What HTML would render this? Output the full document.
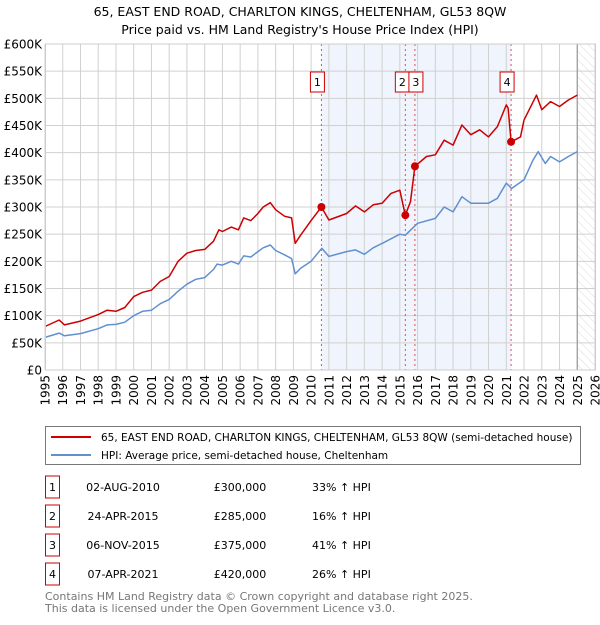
<!DOCTYPE html>
<html><head><meta charset="utf-8"><style>
body{margin:0;background:#fff;font-family:"Liberation Sans","DejaVu Sans",sans-serif;}
svg text{font-family:"DejaVu Sans","Liberation Sans",sans-serif;}
</style></head><body>
<svg width="600" height="620" viewBox="0 0 600 620" xmlns="http://www.w3.org/2000/svg">
<defs><pattern id="hatch" width="6" height="6" patternUnits="userSpaceOnUse" patternTransform="rotate(-45)"><line x1="0" y1="0" x2="0" y2="6" stroke="#ccc" stroke-width="0.7"/></pattern></defs>
<text x="300" y="16" text-anchor="middle" font-size="12.5">65, EAST END ROAD, CHARLTON KINGS, CHELTENHAM, GL53 8QW</text>
<text x="300" y="34" text-anchor="middle" font-size="12.5">Price paid vs. HM Land Registry's House Price Index (HPI)</text>
<g id="plot"></g>
<g id="legend">
<rect x="45.5" y="426.5" width="535" height="38" fill="#fff" stroke="#777"/>
<line x1="51" y1="437" x2="91" y2="437" stroke="#cc0000" stroke-width="2"/>
<text x="101" y="441" font-size="10.5">65, EAST END ROAD, CHARLTON KINGS, CHELTENHAM, GL53 8QW (semi-detached house)</text>
<line x1="51" y1="455" x2="91" y2="455" stroke="#6090d0" stroke-width="2"/>
<text x="101" y="459" font-size="10.5">HPI: Average price, semi-detached house, Cheltenham</text>
</g>
<g id="table"></g>
<text x="45" y="600" font-size="11" fill="#777">Contains HM Land Registry data © Crown copyright and database right 2025.</text>
<text x="45" y="612" font-size="11" fill="#777">This data is licensed under the Open Government Licence v3.0.</text>
</svg>
<script>
const hpiYears=[1995,1995.8,1996.1,1997,1998,1998.5,1999,1999.5,2000,2000.5,2001,2001.5,2002,2002.5,2003,2003.5,2004,2004.5,2004.7,2005,2005.5,2005.9,2006.2,2006.6,2007,2007.3,2007.7,2008,2008.5,2008.9,2009.1,2009.4,2010,2010.6,2011,2012,2012.5,2013,2013.5,2014,2015,2015.3,2016,2017,2017.5,2018,2018.5,2019,2020,2020.5,2021,2021.3,2022,2022.5,2022.8,2023.2,2023.5,2024,2024.5,2025];
const hpiValues=[60,68,63,67,76,83,84,88,100,108,110,122,130,145,158,167,170,185,195,193,200,195,210,208,218,225,230,220,212,205,177,187,200,224,209,218,221,213,225,233,250,248,270,279,300,291,319,307,307,316,344,334,350,386,402,380,393,383,393,402];
const redYears=[1995,1995.8,1996.1,1997,1998,1998.5,1999,1999.5,2000,2000.5,2001,2001.5,2002,2002.5,2003,2003.5,2004,2004.5,2004.8,2005,2005.5,2005.9,2006.2,2006.6,2007,2007.3,2007.7,2008,2008.5,2008.9,2009.1,2009.4,2010,2010.58,2011,2012,2012.5,2013,2013.5,2014,2014.5,2015,2015.31,2015.6,2015.85,2016.5,2017,2017.5,2018,2018.5,2019,2019.5,2020,2020.5,2021,2021.1,2021.27,2021.8,2022,2022.7,2023,2023.5,2024,2024.5,2025];
const redValues=[80,92,83,90,102,110,108,115,135,143,147,163,172,200,215,220,222,237,258,255,263,258,280,275,288,300,308,295,283,280,233,248,275,300,276,288,302,291,304,307,325,331,285,310,375,393,396,423,414,451,433,442,429,448,488,482,420,429,460,506,479,494,485,497,506];
const saleLabels=["1","2","3","4"];
const saleYears=[2010.58,2015.31,2015.85,2021.27];
const saleValues=[300,285,375,420];
const saleDates=["02-AUG-2010","24-APR-2015","06-NOV-2015","07-APR-2021"];
const salePrices=["£300,000","£285,000","£375,000","£420,000"];
const saleHpi=["33% ↑ HPI","16% ↑ HPI","41% ↑ HPI","26% ↑ HPI"];
const yTicks=[0,50,100,150,200,250,300,350,400,450,500,550,600];
const yTickLabels=["£0","£50K","£100K","£150K","£200K","£250K","£300K","£350K","£400K","£450K","£500K","£550K","£600K"];
const xTicks=[1995,1996,1997,1998,1999,2000,2001,2002,2003,2004,2005,2006,2007,2008,2009,2010,2011,2012,2013,2014,2015,2016,2017,2018,2019,2020,2021,2022,2023,2024,2025,2026];

const NS="http://www.w3.org/2000/svg";
const X0=45,X1=595,Y0=370,Y1=44;
const xs=y=>X0+(y-1995)/(2026-1995)*(X1-X0);
const ys=v=>Y0-v/600*(Y0-Y1);
function mk(tag,attrs,parent){const e=document.createElementNS(NS,tag);for(const k in attrs)e.setAttribute(k,attrs[k]);parent.appendChild(e);return e;}
const plot=document.getElementById('plot');
let r=mk('rect',{x:xs(saleYears[0]),y:Y1,width:xs(saleYears[3])-xs(saleYears[0]),height:Y0-Y1,fill:'#f0f4fd'},plot);


r=mk('rect',{x:xs(2025),y:Y1,width:X1-xs(2025),height:Y0-Y1,fill:'url(#hatch)'},plot);


yTicks.forEach((t,i)=>{
 const l=mk('line',{x1:X0,x2:X1,y1:ys(t),y2:ys(t),stroke:'#d0d0d0','stroke-width':1},plot);
 
 
 const tx=mk('text',{x:X0-3,y:ys(t)+4.5,'text-anchor':'end','font-size':12},plot);
 tx.textContent=yTickLabels[i];
 
 
});
xTicks.forEach(t=>{
 const l=mk('line',{x1:xs(t),x2:xs(t),y1:Y1,y2:Y0,stroke:'#d0d0d0','stroke-width':1},plot);
 
 
 const tx=mk('text',{x:0,y:0,'text-anchor':'end','font-size':12,transform:`translate(${xs(t)+4.5},${Y0+5}) rotate(-90)`},plot);
 tx.textContent=t;
 
 
});
const ln=mk('line',{x1:xs(2025),x2:xs(2025),y1:Y1,y2:Y0,stroke:'#999','stroke-width':1.2},plot);


saleYears.forEach(y=>{
 const l=mk('line',{x1:xs(y),x2:xs(y),y1:Y1,y2:Y0,stroke:'#e05050','stroke-width':1,'stroke-dasharray':'2,3'},plot);
 
 
});
function path(xa,va,col,name){
 const d=xa.map((y,i)=>(i?'L':'M')+xs(y).toFixed(1)+','+ys(va[i]).toFixed(1)).join('');
 const p=mk('path',{d,fill:'none',stroke:col,'stroke-width':1.5,'stroke-linejoin':'round'},plot);
 
 
}
path(hpiYears,hpiValues,'#6090d0','hpi-line');
path(redYears,redValues,'#cc0000','property-line');
saleYears.forEach((y,i)=>{
 const c=mk('circle',{cx:xs(y),cy:ys(saleValues[i]),r:4,fill:'#cc0000'},plot);
 
 
 const bxx=i==1?xs(y)-10:i==2?xs(y)-6:xs(y)-11;
 const b=mk('rect',{x:bxx,y:72,width:14,height:20,fill:'#fff',stroke:'#cc0000','stroke-width':1},plot);
 
 
 const t=mk('text',{x:bxx+7,y:86,'text-anchor':'middle','font-size':11},plot);
 t.textContent=saleLabels[i];
 
 
});
const bd=mk('rect',{x:X0+0.5,y:Y1,width:X1-X0,height:Y0-Y1,fill:'none',stroke:'#ccc'},plot);


const tbl=document.getElementById('table');
saleLabels.forEach((s,i)=>{
 const cy=487+i*29;
 const b=mk('rect',{x:45.5,y:cy-11,width:14,height:22,fill:'#fff',stroke:'#cc0000'},tbl);
 
 
 const cells=[[52.5,'middle',s],[123,'middle',saleDates[i]],[240,'middle',salePrices[i]],[312,'start',saleHpi[i]]];
 cells.forEach(c=>{
  const t=mk('text',{x:c[0],y:cy+4,'text-anchor':c[1],'font-size':11},tbl);
  t.textContent=c[2];
  
  
 });
});
</script>
</body></html>
